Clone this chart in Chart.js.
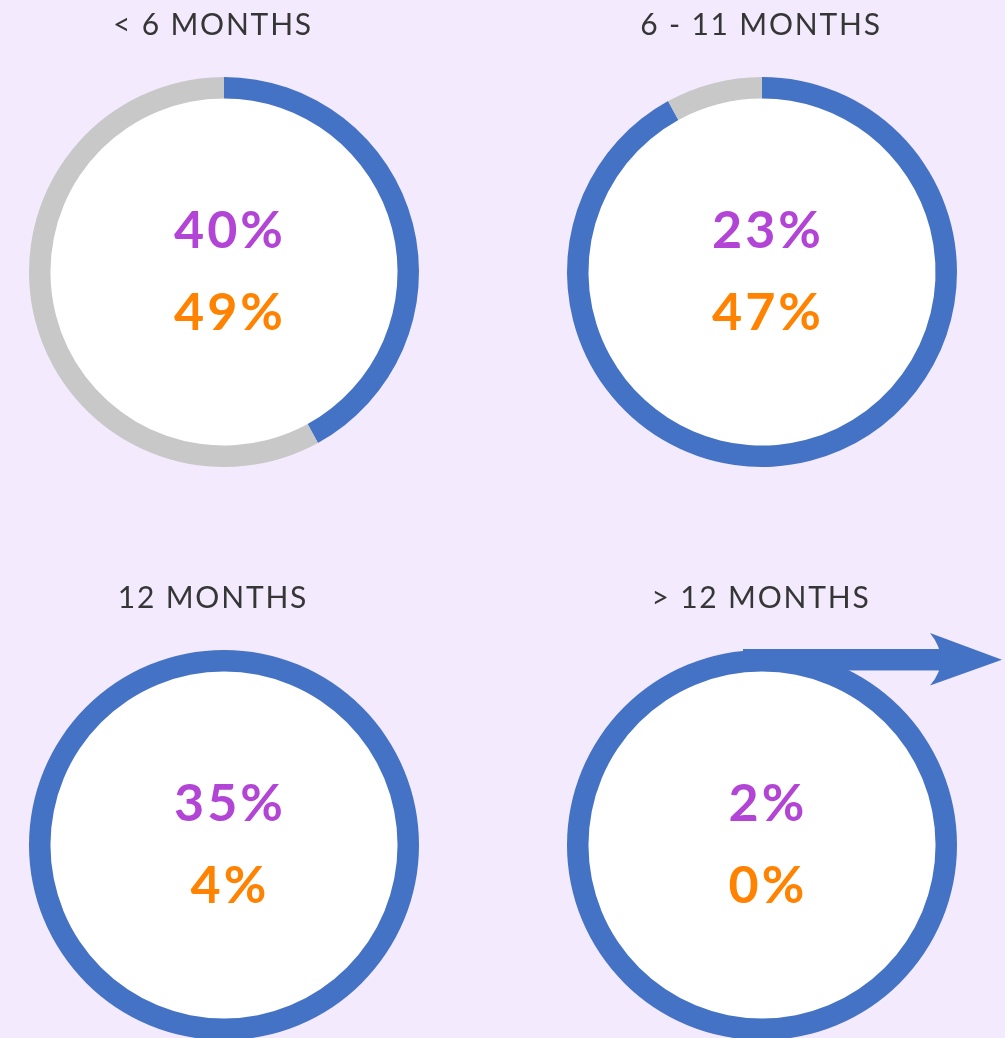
<!DOCTYPE html>
<html>
<head>
<meta charset="utf-8">
<script src="https://cdn.jsdelivr.net/npm/chart.js@4"></script>
<style>
  body { margin: 0; width: 1005px; height: 1038px; overflow: hidden; position: relative; background: #F3EAFE; }
  canvas { position: absolute; }
</style>
</head>
<body>
<canvas id="c0" width="500" height="540" style="left:0;top:0"></canvas>
<canvas id="c1" width="505" height="540" style="left:500px;top:0"></canvas>
<canvas id="c2" width="500" height="540" style="left:0;top:573px"></canvas>
<canvas id="c3" width="505" height="540" style="left:500px;top:573px"></canvas>
<script>
// Data
const periods = ["< 6 MONTHS", "6 - 11 MONTHS", "12 MONTHS", "> 12 MONTHS"];
const purpleValues = [40, 23, 35, 2];
const orangeValues = [49, 47, 4, 0];
const ringBlue = [42, 92, 100, 100];
const ringGrey = [58, 8, 0, 0];

const BLUE = "#4472C4";
const GREY = "#C8C8C8";
const PURPLE = "#B245D6";
const ORANGE = "#FF8200";

// Fill the hole of the ring and write title + values
const ringText = {
    id: "ringText",
    beforeDatasetsDraw(chart) {
        const arc = chart.getDatasetMeta(0).data[0];
        const ctx = chart.ctx;
        ctx.save();
        ctx.fillStyle = "#ffffff";
        ctx.beginPath();
        ctx.arc(arc.x, arc.y, arc.innerRadius + 0.5, 0, Math.PI * 2);
        ctx.fill();
        ctx.restore();
    },
    afterDraw(chart, args, opts) {
        const arc = chart.getDatasetMeta(0).data[0];
        const ctx = chart.ctx;
        const i = opts.index;
        ctx.save();
        ctx.textAlign = "center";
        ctx.textBaseline = "alphabetic";

        ctx.fillStyle = "#363636";
        ctx.font = "400 30px Lato";
        ctx.letterSpacing = "1.8px";
        ctx.fillText(periods[i], arc.x + opts.titleShift, arc.y - 237);

        ctx.font = "700 52px Lato";
        ctx.letterSpacing = "3px";
        ctx.fillStyle = PURPLE;
        ctx.fillText(purpleValues[i] + "%", arc.x + 6, arc.y - 24);
        ctx.fillStyle = ORANGE;
        ctx.fillText(orangeValues[i] + "%", arc.x + 6, arc.y + 58);

        if (opts.arrow) {
            const R = arc.outerRadius;
            const t = R - arc.innerRadius;
            const top = arc.y - R;
            ctx.fillStyle = BLUE;
            ctx.fillRect(arc.x - 19, top - 1, 199, t);
            ctx.beginPath();
            ctx.moveTo(arc.x + 240, top + t / 2 - 1);
            ctx.lineTo(arc.x + 168, top - 17);
            ctx.quadraticCurveTo(arc.x + 180, top - 2, arc.x + 178, top + t / 2 - 1);
            ctx.quadraticCurveTo(arc.x + 180, top + t, arc.x + 168, top + t + 14);
            ctx.closePath();
            ctx.fill();
        }
        ctx.restore();
    }
};

const paddings = [
    { left: 29, right: 81, top: 77, bottom: 73 },
    { left: 67, right: 48, top: 77, bottom: 73 },
    { left: 29, right: 81, top: 77, bottom: 73 },
    { left: 67, right: 48, top: 77, bottom: 73 }
];

periods.forEach((p, i) => {
    new Chart(document.getElementById("c" + i), {
        type: "doughnut",
        data: {
            labels: ["Share", "Rest"],
            datasets: [{
                data: [ringBlue[i], ringGrey[i]],
                backgroundColor: [BLUE, GREY],
                borderWidth: 0
            }]
        },
        options: {
            responsive: false,
            animation: false,
            cutout: "89%",
            layout: { padding: paddings[i] },
            plugins: {
                legend: { display: false },
                tooltip: { enabled: false },
                ringText: { index: i, titleShift: i % 2 === 0 ? -11 : -1, arrow: i === 3 }
            }
        },
        plugins: [ringText]
    });
});
</script>
</body>
</html>
